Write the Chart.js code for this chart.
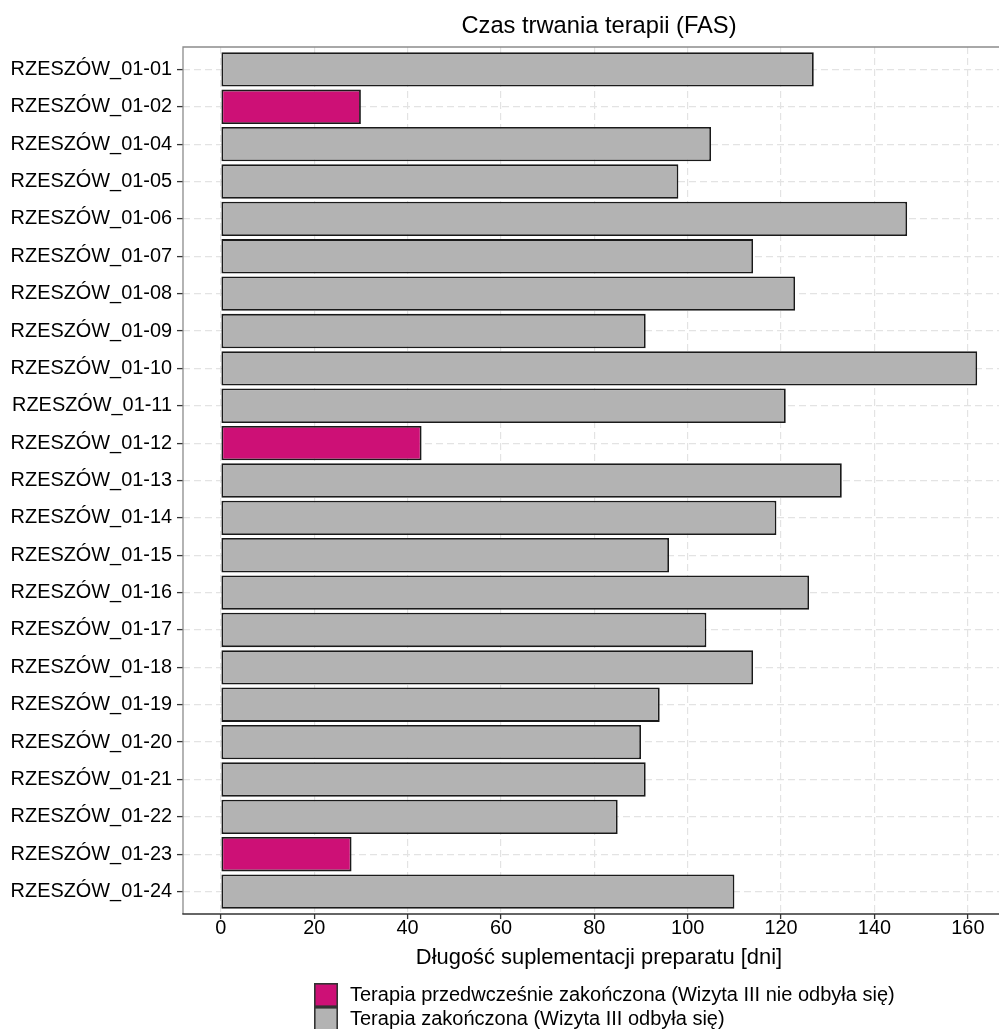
<!DOCTYPE html>
<html>
<head>
<meta charset="utf-8">
<script src="https://cdn.jsdelivr.net/npm/chart.js@4/dist/chart.umd.min.js"></script>
<style>
  html, body { margin: 0; padding: 0; background: #ffffff; overflow: hidden; width: 999px; height: 1029px; }
  canvas { display: block; }
</style>
</head>
<body>
<canvas id="c" width="1030" height="1029"></canvas>
<script>
// ---- data ----
const chartTitle = 'Czas trwania terapii (FAS)';
const xAxisTitle = 'Długość suplementacji preparatu [dni]';
const categories = [
  'RZESZÓW_01-01', 'RZESZÓW_01-02', 'RZESZÓW_01-04', 'RZESZÓW_01-05', 'RZESZÓW_01-06',
  'RZESZÓW_01-07', 'RZESZÓW_01-08', 'RZESZÓW_01-09', 'RZESZÓW_01-10', 'RZESZÓW_01-11',
  'RZESZÓW_01-12', 'RZESZÓW_01-13', 'RZESZÓW_01-14', 'RZESZÓW_01-15', 'RZESZÓW_01-16',
  'RZESZÓW_01-17', 'RZESZÓW_01-18', 'RZESZÓW_01-19', 'RZESZÓW_01-20', 'RZESZÓW_01-21',
  'RZESZÓW_01-22', 'RZESZÓW_01-23', 'RZESZÓW_01-24'
];
const durations = [127, 30, 105, 98, 147, 114, 123, 91, 162, 121, 43, 133, 119, 96, 126, 104, 114, 94, 90, 91, 85, 28, 110];
const terminatedEarly = [false, true, false, false, false, false, false, false, false, false, true, false, false, false, false, false, false, false, false, false, false, true, false];
const seriesLabels = ['Terapia przedwcześnie zakończona (Wizyta III nie odbyła się)', 'Terapia zakończona (Wizyta III odbyła się)'];
const xTickValues = [0, 20, 40, 60, 80, 100, 120, 140, 160];

// ---- styles ----
const FONT = '"Liberation Sans", Arial, sans-serif';
const PINK = '#CD1076';
const GREY = '#B3B3B3';
const EDGE = '#1A1A1A';
const TEXT = '#000000';

const earlyData = [];
const doneData = [];
categories.forEach((c, i) => {
  (terminatedEarly[i] ? earlyData : doneData).push({ x: durations[i], y: i });
});

const decorPlugin = {
  id: 'decor',
  afterDraw(chart) {
    const ctx = chart.ctx;
    const a = chart.chartArea;
    ctx.save();
    // panel border
    ctx.strokeStyle = '#8C8C8C';
    ctx.lineWidth = 1.3;
    ctx.beginPath();
    ctx.moveTo(a.left, a.bottom);
    ctx.lineTo(a.left, a.top);
    ctx.lineTo(a.right, a.top);
    ctx.lineTo(a.right, a.bottom);
    ctx.stroke();
    ctx.strokeStyle = '#333333';
    ctx.lineWidth = 1.5;
    ctx.beginPath();
    ctx.moveTo(a.left - 0.7, a.bottom);
    ctx.lineTo(a.right, a.bottom);
    ctx.stroke();
    // title
    ctx.fillStyle = TEXT;
    ctx.font = '23.7px ' + FONT;
    ctx.textAlign = 'center';
    ctx.textBaseline = 'middle';
    ctx.fillText(chartTitle, (a.left + a.right) / 2, 26);
    // legend
    const colors = [PINK, GREY];
    ctx.font = '20px ' + FONT;
    ctx.textAlign = 'left';
    seriesLabels.forEach((lab, k) => {
      const by = 983 + k * 24;
      ctx.fillStyle = colors[k];
      ctx.fillRect(314, by, 24, 24);
      ctx.strokeStyle = '#333333';
      ctx.lineWidth = 1.6;
      ctx.strokeRect(314.8, by + 0.8, 22.4, 22.4);
      ctx.fillStyle = TEXT;
      ctx.fillText(lab, 350, by + 12.5);
    });
    ctx.restore();
  }
};

const gridCommon = {
  color: '#E3E3E3',
  lineWidth: 1.2,
  tickColor: '#333333',
  tickWidth: 1.3,
  tickBorderDash: [],
  offset: false
};

new Chart(document.getElementById('c'), {
  type: 'bar',
  data: {
    datasets: [
      { label: seriesLabels[0], data: earlyData, backgroundColor: PINK, borderColor: EDGE, borderWidth: 1.8, borderSkipped: false, grouped: false, barPercentage: 0.92, categoryPercentage: 1 },
      { label: seriesLabels[1], data: doneData, backgroundColor: GREY, borderColor: EDGE, borderWidth: 1.8, borderSkipped: false, grouped: false, barPercentage: 0.92, categoryPercentage: 1 }
    ]
  },
  options: {
    indexAxis: 'y',
    responsive: false,
    animation: false,
    devicePixelRatio: 1,
    layout: { padding: { top: 47, right: 15, bottom: 55, left: 0 } },
    plugins: {
      legend: { display: false },
      title: { display: false },
      tooltip: { enabled: false }
    },
    scales: {
      x: {
        type: 'linear',
        min: -8.1,
        max: 170.1,
        offset: false,
        afterBuildTicks: (s) => { s.ticks = xTickValues.map(v => ({ value: v })); },
        afterFit: (s) => { s.height = 60; },
        grid: Object.assign({}, gridCommon, { tickLength: 5 }),
        border: { display: false, dash: [7, 4] },
        ticks: {
          autoSkip: false,
          maxRotation: 0,
          padding: 0,
          color: TEXT,
          font: { family: FONT, size: 19.9, lineHeight: 1 }
        },
        title: {
          display: true,
          text: xAxisTitle,
          color: TEXT,
          font: { family: FONT, size: 21.9 },
          padding: { top: 0, bottom: 3 }
        }
      },
      y: {
        type: 'linear',
        reverse: true,
        min: -0.6,
        max: 22.6,
        offset: false,
        afterBuildTicks: (s) => { s.ticks = categories.map((c, i) => ({ value: i })); },
        afterFit: (s) => { s.width = 183; },
        grid: Object.assign({}, gridCommon, { tickLength: 6 }),
        border: { display: false, dash: [7, 4] },
        ticks: {
          autoSkip: false,
          padding: 5,
          color: TEXT,
          font: { family: FONT, size: 19.9 },
          callback: (v) => categories[v]
        }
      }
    }
  },
  plugins: [decorPlugin]
});
</script>
</body>
</html>
